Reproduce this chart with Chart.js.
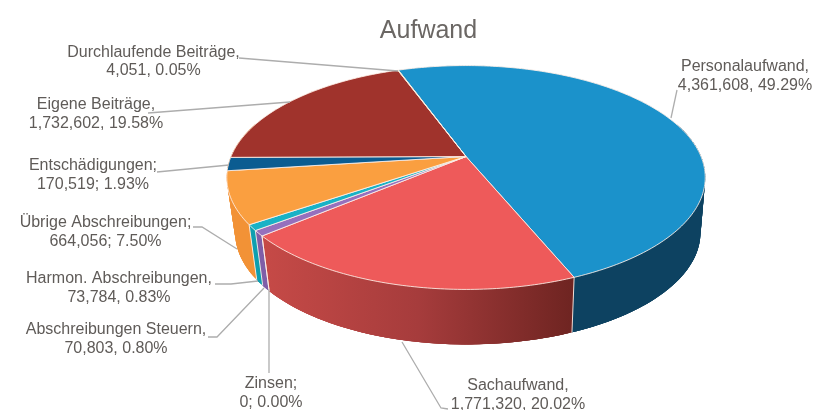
<!DOCTYPE html>
<html><head><meta charset="utf-8">
<style>html,body{margin:0;padding:0;background:#fff}canvas{display:block}</style>
<script src="https://cdn.jsdelivr.net/npm/chart.js@4"></script>
</head><body>
<canvas id="c" width="833" height="410"></canvas>
<script>
const categories = ["Personalaufwand","Sachaufwand","Zinsen","Abschreibungen Steuern","Harmon. Abschreibungen","Übrige Abschreibungen","Entschädigungen","Eigene Beiträge","Durchlaufende Beiträge"];
const values = [4361608,1771320,0,70803,73784,664056,170519,1732602,4051];
const percents = ["49.29%","20.02%","0.00%","0.80%","0.83%","7.50%","1.93%","19.58%","0.05%"];
const separators = [",",",",";",",",",",";",";",",",","];
const topColors = ["#1b92cb","#ee5a5a","#e9a0a0","#9670bd","#18b2c6","#fa9f40","#0b5c91","#a0332c","#7fae3f"];
const sideColors = [["#0d4261","#0d4261"],["#c64a47","#a63c3c","#6e2421"],["#c64a47","#c64a47"],["#7f5ea8","#7f5ea8"],["#0e9fb0","#0e9fb0"],["#f29236","#f29236"],["#f29236","#f29236"],["#f29236","#f29236"],["#f29236","#f29236"]];
const labelCx = [745,518,271,116,119,105.5,93,96,153.5];
const labelY = [71,390,388,334,283,227,170,109,56.5];
const leaders = [
 [[677,90],[671,118]],
 [[402,342],[441,408],[448,409]],
 [[269,289],[269,373]],
 [[208,337],[217,337],[264,288]],
 [[215,284],[231,284],[258,281]],
 [[193,227],[202,227],[237,249]],
 [[157,172],[229,165]],
 [[148,113],[290,102]],
 [[239,58],[398,71]]
];
const hubX=466, hubY=156.5, ampX=235, ampY=108, persp=0.1875, depth=55, shrinkL=0.965, shrinkR=0.98;
function rimTop(a){const X=Math.cos(a),Y=Math.sin(a),w=1-persp*Y;return [hubX+ampX*X/w,hubY+ampY*Y/w];}
function rimBot(a){const p=rimTop(a),d=p[0]-hubX;return [hubX+d*(d<0?shrinkL:shrinkR),p[1]+depth];}
function samples(s,e){const out=[];const n=Math.max(1,Math.ceil((e-s)/0.015));for(let i=0;i<=n;i++)out.push(s+(e-s)*i/n);return out;}
const persp3d={id:'persp3d',
 beforeDatasetDraw(chart,args){
  const ctx=chart.ctx,arcs=args.meta.data;
  ctx.save();
  // side wall: outline first, then overlapping strips for the silhouette
  arcs.forEach((el,i)=>{
    if(el.endAngle-el.startAngle<=0)return;
    const pts=samples(el.startAngle,el.endAngle).filter(a=>Math.sin(a)>-0.32);
    if(pts.length<2)return;
    const tp=pts.map(rimTop),bt=pts.map(rimBot);
    const x0=Math.min(...tp.map(p=>p[0])),x1=Math.max(...tp.map(p=>p[0]));
    const g=ctx.createLinearGradient(x0,0,x1+0.01,0);
    sideColors[i].forEach((c,k)=>g.addColorStop(k/(sideColors[i].length-1),c));
    ctx.fillStyle=g;
    ctx.beginPath();
    tp.forEach((p,k)=>k?ctx.lineTo(p[0],p[1]):ctx.moveTo(p[0],p[1]));
    bt.slice().reverse().forEach(p=>ctx.lineTo(p[0],p[1]));
    ctx.closePath();ctx.fill();
    for(let k=0;k<pts.length-1;k++){
      const n=Math.min(k+3,pts.length-1);
      ctx.beginPath();
      ctx.moveTo(tp[k][0],tp[k][1]);ctx.lineTo(tp[n][0],tp[n][1]);
      ctx.lineTo(bt[n][0],bt[n][1]);ctx.lineTo(bt[k][0],bt[k][1]);
      ctx.closePath();ctx.fill();
    }
  });
  // wall separators
  ctx.strokeStyle='rgba(255,240,232,0.9)';ctx.lineWidth=1;
  arcs.forEach(el=>{
    const a=el.startAngle;
    if(Math.sin(a)>0.4){const p=rimTop(a),q=rimBot(a);ctx.beginPath();ctx.moveTo(p[0],p[1]);ctx.lineTo(q[0],q[1]);ctx.stroke();}
  });
  // top face
  arcs.forEach((el,i)=>{
    if(el.endAngle-el.startAngle<=0)return;
    ctx.beginPath();ctx.moveTo(hubX,hubY);
    samples(el.startAngle,el.endAngle).forEach(a=>{const p=rimTop(a);ctx.lineTo(p[0],p[1]);});
    ctx.closePath();
    ctx.fillStyle=topColors[i];ctx.fill();
    ctx.strokeStyle='rgba(255,240,232,0.85)';ctx.lineWidth=1;ctx.stroke();
  });
  ctx.restore();
  return false;
 },
 afterDraw(chart){
  const ctx=chart.ctx;
  ctx.save();
  ctx.strokeStyle='#adadad';ctx.lineWidth=1.3;
  leaders.forEach(l=>{ctx.beginPath();l.forEach((p,k)=>k?ctx.lineTo(p[0],p[1]):ctx.moveTo(p[0],p[1]));ctx.stroke();});
  ctx.fillStyle='#5f5b58';ctx.font='16px "Liberation Sans"';ctx.textAlign='center';ctx.textBaseline='alphabetic';
  categories.forEach((c,i)=>{
    ctx.fillText(c+separators[i],labelCx[i],labelY[i]);
    ctx.fillText(values[i].toLocaleString('en-US')+separators[i]+' '+percents[i],labelCx[i],labelY[i]+18.7);
  });
  ctx.restore();
 }
};
new Chart(document.getElementById('c'),{
 type:'pie',
 data:{labels:categories,datasets:[{data:values,backgroundColor:topColors,clip:false}]},
 options:{
  responsive:false,animation:false,
  rotation:-19.8,
  layout:{padding:{left:24}},
  events:[],
  plugins:{
   legend:{display:false},tooltip:{enabled:false},
   title:{display:true,text:'Aufwand',fullSize:false,color:'#6b6764',font:{family:'"Liberation Sans"',size:25,weight:'normal'},padding:{top:16,bottom:4}}
  }
 },
 plugins:[persp3d]
});
</script>
</body></html>
